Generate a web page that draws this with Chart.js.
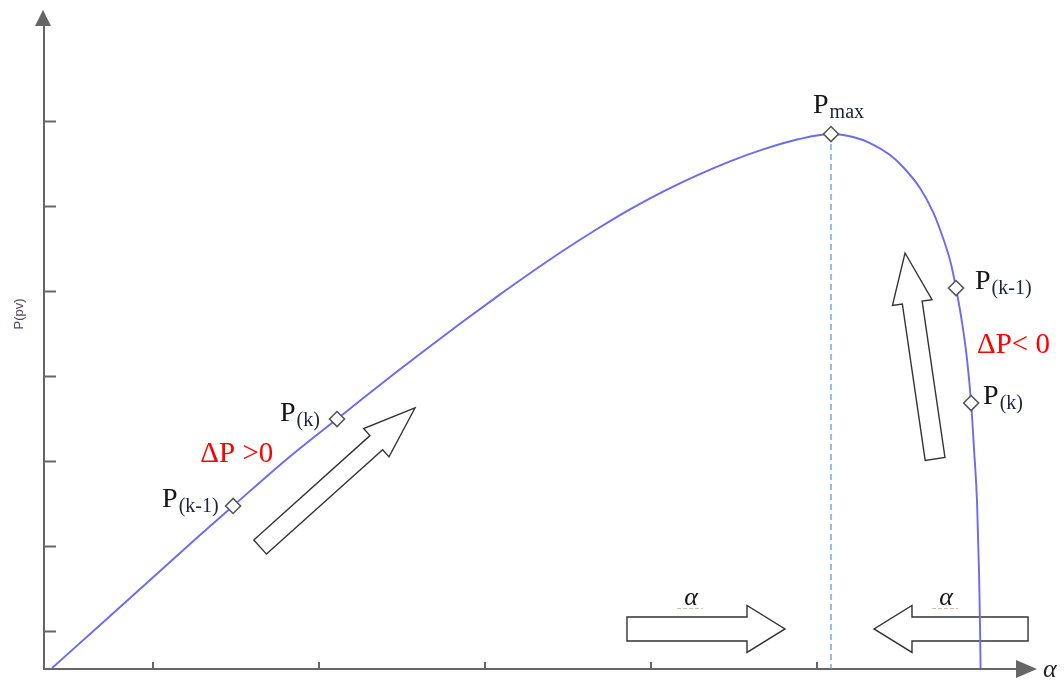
<!DOCTYPE html>
<html><head><meta charset="utf-8">
<script src="https://cdn.jsdelivr.net/npm/chart.js@4.4.1/dist/chart.umd.min.js"></script>
<style>html,body{margin:0;padding:0;background:#fff}canvas{display:block}</style>
</head><body>
<canvas id="c" width="1064" height="680"></canvas>
<script>
// ---- data (P-V curve vs duty ratio alpha) ----
const curveX = [0.392,0.681,0.982,1.283,1.482,1.825,2.108,2.265,2.470,2.669,2.867,3.072,3.271,3.470,3.675,3.873,4.072,4.277,4.476,4.675,4.880,5.084,5.217,5.319,5.440,5.518,5.620,5.699,5.759,5.807,5.837,5.873,5.904,5.928,5.946,5.964,5.976,5.982,5.985];
const curveY = [0.565,1.071,1.600,2.129,2.471,3.053,3.494,3.738,4.052,4.351,4.642,4.934,5.209,5.473,5.729,5.960,6.169,6.361,6.526,6.666,6.782,6.847,6.812,6.741,6.600,6.459,6.212,5.929,5.624,5.318,5.035,4.635,4.188,3.682,3.129,2.506,1.671,1.035,0.565];
const markerX = [1.482, 2.108, 5.084, 5.837, 5.928];
const markerY = [2.471, 3.494, 6.847, 5.035, 3.682];
const markerMain = ['P','P','P','P','P'];
const markerSub = ['(k-1)','(k)','max','(k-1)','(k)'];
const peakX = 5.084, peakY = 6.847;
const xTicks = [1,2,3,4,5];
const yTicks = [1,2,3,4,5,6,7];
const xMin = 0.343, xMax = 6.325, yMin = 0.553, yMax = 8.306;
const xAxisLabel = 'α';
const yAxisLabel = 'P(pv)';
const deltaLabels = [{t:'ΔP >0', x:1.285, y:2.988}, {t:'ΔP< 0', x:5.964, y:4.271}];
const alphaLabels = [{x:4.241, y:1.306}, {x:5.777, y:1.306}];

// ---- layout / decoration (pixels) ----
const markerLabelOffsets = [[-71,1],[-57,2],[-18,-21],[19,1],[12,1]];
const blockArrows = [
  {from:[1.645,1.988], to:[2.578,3.624], shaft:9.5, head:19, headLen:52},
  {from:[5.711,3.024], to:[5.530,5.447], shaft:10, head:20, headLen:50},
  {from:[3.855,1.024], to:[4.807,1.024], shaft:12, head:23.5, headLen:38},
  {from:[6.271,1.024], to:[5.343,1.024], shaft:12, head:23.5, headLen:38}
];
const AXIS = '#666666';

const deco = {
  id: 'deco',
  beforeDatasetsDraw(chart) {
    const {ctx, scales:{x, y}} = chart;
    const x0 = x.getPixelForValue(xMin), y0 = y.getPixelForValue(yMin);
    const xe = x.getPixelForValue(xMax), ye = y.getPixelForValue(yMax);
    ctx.save();
    ctx.strokeStyle = AXIS; ctx.fillStyle = AXIS; ctx.lineWidth = 2;
    // x axis
    ctx.beginPath(); ctx.moveTo(x0, y0); ctx.lineTo(xe - 18, y0); ctx.stroke();
    ctx.beginPath(); ctx.moveTo(xe, y0); ctx.lineTo(xe - 21, y0 - 9); ctx.lineTo(xe - 21, y0 + 9); ctx.closePath(); ctx.fill();
    // y axis
    ctx.beginPath(); ctx.moveTo(x0, y0 + 1); ctx.lineTo(x0, ye + 14); ctx.stroke();
    ctx.beginPath(); ctx.moveTo(x0 - 1, ye); ctx.lineTo(x0 - 9, ye + 16); ctx.lineTo(x0 + 7, ye + 16); ctx.closePath(); ctx.fill();
    // ticks
    ctx.lineWidth = 2;
    yTicks.forEach(v => { const p = Math.round(y.getPixelForValue(v)) + 0.5; ctx.beginPath(); ctx.moveTo(x0, p); ctx.lineTo(x0 + 12, p); ctx.stroke(); });
    xTicks.forEach(v => { const p = Math.round(x.getPixelForValue(v)); ctx.beginPath(); ctx.moveTo(p, y0); ctx.lineTo(p, y0 - 7); ctx.stroke(); });
    // block arrows
    ctx.strokeStyle = '#333'; ctx.fillStyle = '#fff'; ctx.lineWidth = 1.4; ctx.lineJoin = 'miter';
    blockArrows.forEach(a => {
      const tx = x.getPixelForValue(a.from[0]), ty = y.getPixelForValue(a.from[1]);
      const px = x.getPixelForValue(a.to[0]), py = y.getPixelForValue(a.to[1]);
      const L = Math.hypot(px - tx, py - ty), ux = (px - tx) / L, uy = (py - ty) / L;
      const nx = -uy, ny = ux;
      const bx = px - ux * a.headLen, by = py - uy * a.headLen;
      ctx.beginPath();
      ctx.moveTo(tx + nx * a.shaft, ty + ny * a.shaft);
      ctx.lineTo(bx + nx * a.shaft, by + ny * a.shaft);
      ctx.lineTo(bx + nx * a.head, by + ny * a.head);
      ctx.lineTo(px, py);
      ctx.lineTo(bx - nx * a.head, by - ny * a.head);
      ctx.lineTo(bx - nx * a.shaft, by - ny * a.shaft);
      ctx.lineTo(tx - nx * a.shaft, ty - ny * a.shaft);
      ctx.closePath(); ctx.fill(); ctx.stroke();
    });
    // axis labels
    ctx.fillStyle = '#222';
    ctx.font = 'italic 26px "Liberation Serif"';
    ctx.textBaseline = 'alphabetic'; ctx.textAlign = 'left';
    ctx.fillText(xAxisLabel, xe + 6, y0 + 8);
    ctx.save();
    ctx.translate(23, 314); ctx.rotate(-Math.PI / 2);
    ctx.font = '13px "Liberation Sans"'; ctx.fillStyle = '#5c4660'; ctx.textAlign = 'center';
    ctx.fillText(yAxisLabel, 0, 0);
    ctx.restore();
    // alpha labels over bottom arrows
    ctx.textAlign = 'center';
    alphaLabels.forEach(l => {
      const lx = x.getPixelForValue(l.x), ly = y.getPixelForValue(l.y);
      ctx.fillStyle = '#111'; ctx.font = 'italic 26px "Liberation Serif"';
      ctx.fillText('α', lx, ly);
      ctx.strokeStyle = '#cdbfae'; ctx.lineWidth = 1; ctx.setLineDash([4, 2]);
      ctx.beginPath(); ctx.moveTo(lx - 14, ly + 3.5); ctx.lineTo(lx + 12, ly + 3.5); ctx.stroke();
      ctx.setLineDash([]);
    });
    ctx.restore();
  },
  afterDatasetsDraw(chart) {
    const {ctx, scales:{x, y}} = chart;
    ctx.save();
    ctx.textBaseline = 'alphabetic'; ctx.textAlign = 'left';
    markerX.forEach((mx, i) => {
      const px = x.getPixelForValue(mx) + markerLabelOffsets[i][0];
      const py = y.getPixelForValue(markerY[i]) + markerLabelOffsets[i][1];
      ctx.font = '28px "Liberation Serif"'; ctx.fillStyle = '#151515';
      ctx.fillText(markerMain[i], px, py);
      const w = ctx.measureText(markerMain[i]).width;
      ctx.font = '20px "Liberation Serif"'; ctx.fillStyle = '#1e2236';
      ctx.fillText(markerSub[i], px + w + 1, py + 5);
    });
    ctx.font = '29px "Liberation Serif"'; ctx.fillStyle = '#ff0000';
    deltaLabels.forEach(l => ctx.fillText(l.t, x.getPixelForValue(l.x), y.getPixelForValue(l.y)));
    ctx.restore();
  }
};

new Chart(document.getElementById('c'), {
  type: 'scatter',
  data: {
    datasets: [
      {
        data: [{x: peakX, y: peakY}, {x: peakX, y: yMin}],
        showLine: true, borderColor: '#5b9bdc', borderWidth: 1.3, borderDash: [6, 4],
        pointRadius: 0, order: 3
      },
      {
        data: curveX.map((v, i) => ({x: v, y: curveY[i]})),
        showLine: true, borderColor: '#6a6af2', borderWidth: 1.9,
        cubicInterpolationMode: 'monotone', pointRadius: 0, order: 2
      },
      {
        data: markerX.map((v, i) => ({x: v, y: markerY[i]})),
        showLine: false, pointStyle: 'rectRot', pointRadius: 7.5,
        pointBackgroundColor: '#ffffff', pointBorderColor: '#555555', pointBorderWidth: 1.6, order: 1
      }
    ]
  },
  options: {
    responsive: false, animation: false, devicePixelRatio: 1,
    layout: {padding: {left: 44, right: 27, top: 10, bottom: 11}},
    plugins: {legend: {display: false}, tooltip: {enabled: false}},
    scales: {
      x: {type: 'linear', min: xMin, max: xMax, display: false},
      y: {type: 'linear', min: yMin, max: yMax, display: false}
    },
    elements: {line: {tension: 0}},
    clip: false
  },
  plugins: [deco]
});
</script>
</body></html>
